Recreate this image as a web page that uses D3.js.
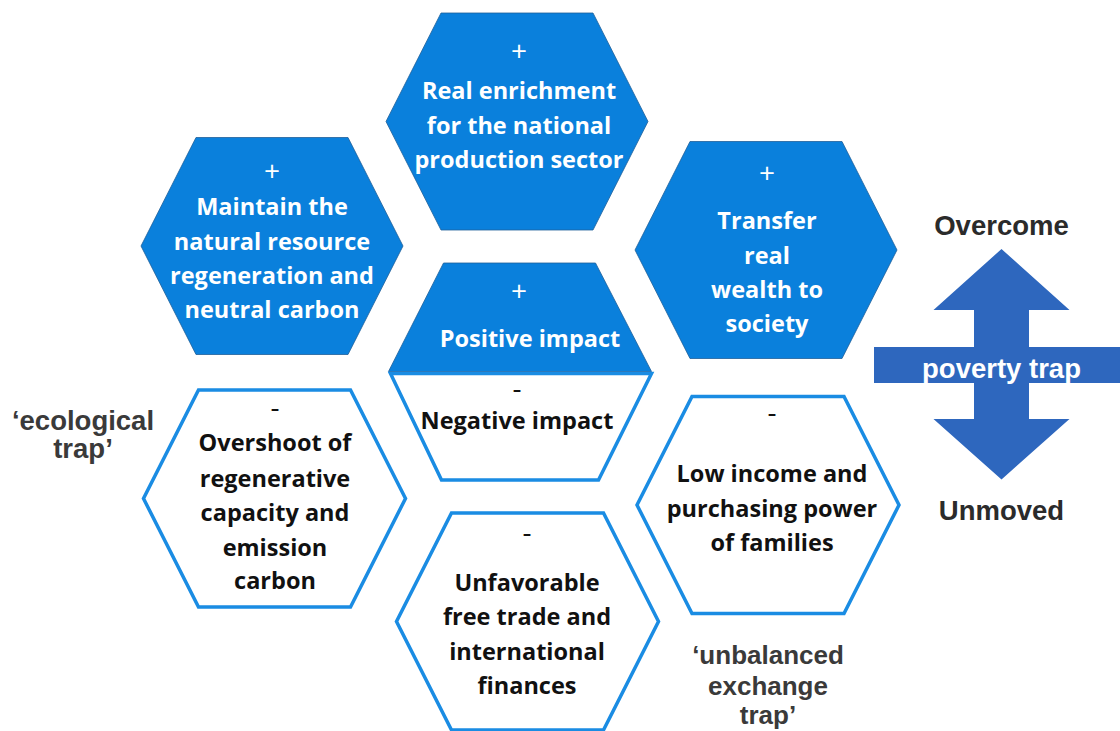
<!DOCTYPE html>
<html>
<head>
<meta charset="utf-8">
<script src="https://d3js.org/d3.v7.min.js"></script>
<style>
  body { margin: 0; background: #fff; }
  svg { display: block; }
</style>
</head>
<body>
<div id="chart"></div>
<script>
// labels for each hexagon (sign on top, then the text lines)
const hexLabels = [
  ["+", "Real enrichment", "for the national", "production sector"],
  ["+", "Maintain the", "natural resource", "regeneration and", "neutral carbon"],
  ["+", "Transfer", "real", "wealth to", "society"],
  ["-", "Overshoot of", "regenerative", "capacity and", "emission", "carbon"],
  ["-", "Unfavorable", "free trade and", "international", "finances"],
  ["-", "Low income and", "purchasing power", "of families"]
];
const hexKind = ["fill", "fill", "fill", "line", "line", "line"];
const splitLabels = [["+", "Positive impact"], ["-", "Negative impact"]];
const trapLabels = [["\u2018ecological", "trap\u2019"], ["\u2018unbalanced", "exchange", "trap\u2019"]];
const arrowLabels = ["Overcome", "poverty trap", "Unmoved"];

// layout
const W = 1120, H = 731;
const hexCenters = [[517, 121.5], [272, 246], [766, 250], [274.5, 498.5], [527.5, 621.5], [768, 505]];
const hexHalfW = 131, hexHalfH = 108.5, hexTopW = 76;
const textLines = [
  [51, 91, 126, 160],
  [171, 207, 242, 276, 310],
  [173, 221, 256, 290, 324],
  [407, 443, 479, 513, 548, 581],
  [532, 583, 617, 652, 686],
  [412, 474, 509, 543]
];
const textX = [519, 272, 767, 275, 527, 772];

const blue = "#0A80DC", lineBlue = "#1A8CE3", arrowBlue = "#2E67BE", grey = "#3a3a3a";

const svg = d3.select("#chart").append("svg").attr("width", W).attr("height", H);

function hexPts(c) {
  const [x, y] = c;
  return [[x - hexTopW, y - hexHalfH], [x + hexTopW, y - hexHalfH], [x + hexHalfW, y],
          [x + hexTopW, y + hexHalfH], [x - hexTopW, y + hexHalfH], [x - hexHalfW, y]];
}
const line = d3.line().curve(d3.curveLinearClosed);

svg.selectAll("path.hex").data(hexCenters).enter().append("path")
  .attr("class", "hex")
  .attr("d", d => line(hexPts(d)))
  .attr("fill", (d, i) => hexKind[i] == "fill" ? blue : "#fff")
  .attr("stroke", (d, i) => hexKind[i] == "fill" ? "#1f5f99" : lineBlue)
  .attr("stroke-width", (d, i) => hexKind[i] == "fill" ? 0.8 : 3.5)
  .attr("stroke-linejoin", "miter");

// split hexagon in the middle
const sc = [519.5, 371.5];
const topHalf = [[sc[0] - hexTopW, sc[1] - hexHalfH], [sc[0] + hexTopW, sc[1] - hexHalfH],
                 [sc[0] + hexHalfW + 1, sc[1]], [sc[0] - hexHalfW, sc[1]]];
const botHalf = [[sc[0] - hexHalfW + 2, sc[1] + 2], [sc[0] + hexHalfW + 1, sc[1] + 2],
                 [sc[0] + hexTopW + 3, sc[1] + hexHalfH], [sc[0] - hexTopW - 2, sc[1] + hexHalfH]];
svg.append("path").attr("d", line(topHalf)).attr("fill", blue).attr("stroke", "#1f5f99").attr("stroke-width", 0.8);
svg.append("path").attr("d", line(botHalf)).attr("fill", "#fff").attr("stroke", lineBlue).attr("stroke-width", 3.5);

const font = "'Open Sans', Lato, sans-serif";
const signSize = 28, textSize = 23.5;

hexLabels.forEach((lab, i) => {
  const col = hexKind[i] == "fill" ? "#fff" : "#111";
  svg.selectAll(null).data(lab).enter().append("text")
    .attr("x", textX[i])
    .attr("y", (d, j) => textLines[i][j])
    .attr("dy", "0.35em")
    .attr("text-anchor", "middle")
    .attr("font-family", font)
    .attr("font-weight", (d, j) => j == 0 ? 400 : 700)
    .attr("font-size", (d, j) => j == 0 ? signSize : textSize)
    .attr("fill", col)
    .text(d => d);
});

const splitY = [[291, 339], [388, 421]];
const splitX = [[519, 530], [517, 517]];
splitLabels.forEach((lab, i) => {
  svg.selectAll(null).data(lab).enter().append("text")
    .attr("x", (d, j) => splitX[i][j])
    .attr("y", (d, j) => splitY[i][j])
    .attr("dy", "0.35em")
    .attr("text-anchor", "middle")
    .attr("font-family", font)
    .attr("font-weight", (d, j) => j == 0 ? 400 : 700)
    .attr("font-size", (d, j) => j == 0 ? signSize : textSize)
    .attr("fill", i == 0 ? "#fff" : "#111")
    .text(d => d);
});

// trap labels
const trapPos = [[83, [420, 448]], [768, [655, 686, 715]]];
const trapSize = [27.5, 26];
trapLabels.forEach((lab, i) => {
  svg.selectAll(null).data(lab).enter().append("text")
    .attr("x", trapPos[i][0])
    .attr("y", (d, j) => trapPos[i][1][j])
    .attr("dy", "0.35em")
    .attr("text-anchor", "middle")
    .attr("font-family", "'Liberation Sans', Arial, sans-serif")
    .attr("font-weight", 700)
    .attr("font-size", trapSize[i])
    .attr("fill", grey)
    .text(d => d);
});

// double arrow with cross bar
const ax = 1001.5;
const arrow = [
  [ax, 249], [ax + 68, 310], [ax + 27.5, 310], [ax + 27.5, 347], [W + 5, 347], [W + 5, 383],
  [ax + 27.5, 383], [ax + 27.5, 419], [ax + 68, 419], [ax, 479.5], [ax - 68, 419], [ax - 27.5, 419],
  [ax - 27.5, 383], [874, 383], [874, 347], [ax - 27.5, 347], [ax - 27.5, 310], [ax - 68, 310]
];
svg.append("path").attr("d", line(arrow)).attr("fill", arrowBlue);

const arrowY = [225, 368, 510];
svg.selectAll("text.arr").data(arrowLabels).enter().append("text")
  .attr("class", "arr")
  .attr("x", ax)
  .attr("y", (d, i) => arrowY[i])
  .attr("dy", "0.35em")
  .attr("text-anchor", "middle")
  .attr("font-family", "'Liberation Sans', Arial, sans-serif")
  .attr("font-weight", 700)
  .attr("font-size", 27.5)
  .attr("fill", (d, i) => i == 1 ? "#fff" : "#2b2b2b")
  .text(d => d);
</script>
</body>
</html>
